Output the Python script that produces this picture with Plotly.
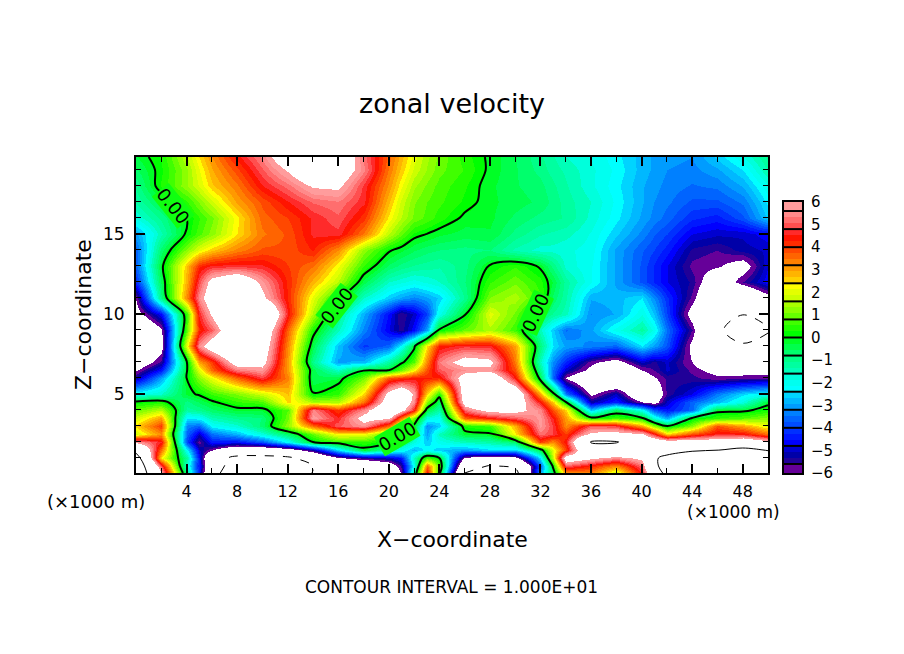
import plotly.graph_objects as go

# x en km, z en km (ligne du haut d'abord dans u_rows)
x_km = [0, 2, 4, 6, 8, 10, 12, 14, 16, 18, 20, 22, 23, 24, 26, 28, 30, 32, 34, 36, 38, 40, 42, 44, 46, 48, 50]
z_km = [19.8, 19, 18, 17, 16, 15, 14, 13, 12, 11, 10, 9, 8, 7, 6.5, 6, 5, 4.5, 4, 3.5, 3, 2.5, 2, 1.5, 1, 0.5, 0.06]

u_rows = [
    [-0.3, 0.3, 1.6, 3.2, 4.4, 5.4, 7, 8, 7.5, 5.2, 3.6, 2, 1.4, 1, 0.4, -0.1, -0.5, -1, -1.6, -1.9, -2.3, -2.8, -3.1, -3.2, -2.6, -1.9, -1],
    [-0.6, 0.2, 1.3, 2.9, 3.9, 5, 6.1, 7.5, 7, 5.4, 3.4, 1.8, 1.3, 0.9, 0.5, -0.1, -0.5, -0.9, -1.4, -1.8, -2.2, -2.8, -3.2, -3.3, -3, -2.4, -1.3],
    [-1, 0.3, 1.3, 2.6, 3.4, 4.5, 5.2, 6.1, 6.2, 4.7, 3.1, 1.4, 1, 0.7, 0.3, -0.2, -0.5, -0.7, -1.3, -1.8, -2.3, -2.9, -3.3, -3.5, -3.4, -2.9, -1.9],
    [-1.3, -0.4, 0.5, 1.8, 3, 3.8, 4.5, 5.1, 5.3, 4.6, 2.7, 1.1, 0.8, 0.6, 0.2, -0.2, -0.4, -0.6, -1.2, -1.6, -2.2, -2.9, -3.4, -3.8, -3.8, -3.4, -2.3],
    [-1.8, -1, 0, 1, 2.3, 3.6, 4, 4.6, 5, 4.1, 2.3, 1, 0.7, 0.4, -0.1, -0.2, -0.6, -0.9, -1.1, -1.7, -2.3, -3, -3.6, -4.2, -4.4, -3.8, -2.6],
    [-3, -1.4, 0.1, 1.2, 2.4, 3.4, 3.8, 4.6, 4.7, 3.4, 1.6, 0.2, 0, -0.2, -0.4, -0.3, -0.9, -1.3, -1.5, -1.9, -2.6, -3.3, -4, -4.8, -5, -5, -4.6],
    [-3.6, -0.7, 1.2, 2.6, 3.3, 3.8, 3.8, 4.3, 3.2, 1.2, 0.1, -0.5, -0.7, -0.8, -0.9, -0.8, -1.4, -1.7, -1.8, -2, -3, -3.7, -4.4, -5.4, -5.6, -5.2, -5],
    [-3.6, -0.2, 2.7, 4.6, 4.7, 4.6, 4, 3.5, 2.2, 0.5, -0.6, -1.1, -1.2, -1.3, -0.9, 0.05, 0.5, -0.1, -1.7, -2.1, -3, -3.8, -4.8, -5.7, -5.9, -6.5, -4.8],
    [-4.2, -0.5, 2.9, 6.5, 7.5, 5.7, 4.2, 2.8, 1.6, -0.4, -1.6, -2, -1.8, -1.6, -0.8, 0.5, 1, 0.4, -1.2, -2.1, -3, -3.8, -4.8, -5.4, -7, -5.6, -4.6],
    [-5.9, -0.9, 3.3, 7, 9, 6.3, 4.2, 2, 0.2, -1.6, -2.6, -3.3, -3, -2.6, -1, 1.1, 1.5, 0.6, -1.3, -2.9, -2.8, -2.4, -4.2, -5.7, -8, -8, -6.4],
    [-6.5, -4.6, 0.6, 6.2, 9.5, 9, 4.5, 1.5, -1, -2.9, -4.6, -5, -4, -2, -0.1, 2, 1, -0.5, -1.5, -3.2, -2.9, -1.9, -4, -6.5, -8, -9.9, -8],
    [-8, -6.2, 0.9, 5, 8, 7.5, 3.6, 0.3, -1.5, -3.3, -4.8, -4.6, -3, 0.1, 0.9, 1.5, 0.6, -1.5, -3.5, -3, -2, -1.2, -3.5, -5.6, -9.5, -11.5, -10.5],
    [-8, -6.5, 2.2, 7, 9, 7, 3.2, -0.4, -2.7, -4.1, -3.6, -0.2, 2.4, 4.3, 4.7, 4.6, 3, -0.8, -3, -3.3, -3.6, -2.4, -3.8, -6.3, -8.5, -9.7, -8],
    [-7, -5.5, -0.1, 4, 6.8, 6.5, 3, -1, -3, -2.8, -1.2, 0.8, 3.3, 5.3, 6.6, 6.3, 3.4, -1.5, -4.3, -5.8, -6.5, -5, -5, -6, -7.5, -8, -7.5],
    [-6.1, -4.5, -0.1, 3.6, 5.3, 5.7, 3, -0.4, -1.6, -0.1, -0.1, 2.2, 3.8, 5, 5.6, 5.7, 3.8, -1, -5, -6.3, -7.5, -6, -5, -5.7, -6.4, -6.5, -6.4],
    [-5.2, -3, 0, 2.1, 3.6, 4.8, 3.3, -0.5, -0.3, 1, 3.8, 4.4, 4.3, 4.2, 6.7, 7.5, 4.5, -0.4, -6.1, -7.5, -8, -6.6, -5.5, -5.5, -5.8, -5.7, -5.6],
    [-2, -1.6, -0.2, 0.6, 1.1, 1.8, 2.7, 0.05, 0.5, 2.5, 6.5, 5.8, 2.5, 0.4, 7, 9, 7.5, 3, -3.4, -6.2, -5, -7.5, -5.5, -4.8, -3.4, -2.5, -2],
    [0.1, 0.3, -0.9, -0.1, 0.5, 0.7, 2.5, 1.5, 1.5, 3.5, 7, 5.5, 1.2, -0.6, 6.8, 9, 7, 4.5, 0, -5.2, -4.3, -6, -5, -3.6, -2.8, -1.8, -0.2],
    [0.9, 1.6, -1.2, -0.6, -0.2, -0.2, 0.8, 5.4, 4, 5.5, 8, 4.5, -0.3, -1.3, 5.2, 6.5, 6.4, 5.5, 2.5, -2.7, -0.5, -2, -4.5, -3.6, -0.2, -0.2, 0.3],
    [1.8, 3, -2.4, -1.4, -1, -0.8, 1, 5.8, 4.6, 6.5, 6.2, 1, -1.8, -2.1, 3.7, 4.4, 5, 5.7, 3, 0.2, 0.6, 0.1, -3, 0, 0.5, 0.8, 1.2],
    [2.5, 4, -3.3, -2.2, -1.7, -0.7, 1.3, 3.5, 5, 5.6, 3.5, -0.2, -3.2, -2.6, 0.3, 0.6, 2.8, 5.7, 3.2, 5, 4.8, 3, -0.1, 1.2, 3.8, 3, 2],
    [1.8, 3.2, -3.6, -3.5, -2.8, -1.8, -0.6, 0.9, 2.3, 2.2, 0.8, -1.1, -3, -1.5, -0.2, -0.1, 2.3, 5.2, 4, 6.3, 6.5, 6.2, 2.5, 3.8, 4.6, 4.5, 3.5],
    [5.7, 4.6, -4, -4.4, -4.5, -3.8, -2.2, 0, 0.5, 0.5, 0, -1.8, -2.6, -2, -1.5, -1.3, -0.7, 4, 4.5, 10.2, 10.2, 8, 7, 7, 7, 7.5, 6.5],
    [9, 3.5, -2.2, -6, -7.5, -7.5, -7, -5.2, -2.5, -0.2, -1.4, -2.8, -2.2, -2.6, -3, -2.5, -2.6, -0.4, 4, 8.5, 8.5, 8, 9.3, 9.7, 9.9, 10.8, 9.8],
    [11.5, 2.4, -1.2, -8.5, -10.8, -11, -10.5, -8.5, -6.2, -5.5, -5, -1.5, 0.8, 0, -6.3, -7, -6.5, -2.5, 7, 6.2, 5.5, 6.3, 10.4, 11.5, 12.5, 13, 12],
    [12.5, 5, -1.8, -8, -12, -12.5, -11.5, -10, -8, -8, -7, -2, 3.6, 0.9, -8.5, -10.2, -9.5, -3.8, 5, 4.2, 3.2, 5.2, 11, 12.5, 13.5, 13.5, 13],
    [13, 6, -1, -8.5, -13, -13, -12.5, -9.9, -8.5, -8.5, -7.5, -1, 4.5, 0.3, -10, -11.5, -11, -3, 3, 3.3, 1.7, 4.6, 11, 14, 14, 14, 14],
]

# colonnes supplementaires relevees la ou le champ varie vite
col_5 = [2.4, 2.1, 1.9, 1.1, 0.5, 0.7, 2, 4.2, 4.9, 5.5, 4.6, 4.2, 5.5, 3, 2, 1.2, 0.1, -0.5, -1, -2.2, -3.6, -5, -5.8, -5, -4.5, -4.5, -4.5]
col_21 = [2.8, 2.6, 2.2, 1.8, 1.6, 0.9, -0.2, -0.9, -1.8, -3, -5.6, -5.5, -2.2, -0.2, 0.9, 4.1, 7.5, 7.5, 6.5, 3.5, 1, -0.2, -0.9, -2, -4.5, -5.5, -6]
col_33 = [-1.3, -1.2, -1, -0.9, -1, -1.4, -1.7, -0.9, -0.3, -0.6, -1.1, -2.6, -2.4, -3.2, -3.5, -3.6, 0.3, 2.6, 3.8, 4.5, 4.8, 4.8, 3.2, 2, 1.8, 0.2, -0.5]
col_41 = [-3, -3, -3.1, -3.2, -3.3, -3.7, -4, -4.3, -4.3, -3.2, -2.7, -2, -3, -5.4, -5.6, -6.1, -7, -6.5, -3.8, -1.8, 1.3, 4.6, 7.5, 8.8, 9.8, 9.5, 8]

# etiquettes de l'isoligne 0
label_x = [2.9, 15.9, 20.65, 31.6]
label_z = [16.75, 10.5, 2.37, 10.1]
label_angle = [51, -52, -30, -65]

# couleurs de la palette, du haut (+6) vers le bas (-6)
bar_colors = [
    "#ff9c9c",
    "#ff8a8a", "#ff6e6e", "#ff4f4f",
    "#ff2a2a", "#ff1400", "#ff2c00",
    "#ff4800", "#ff6400", "#ff8000",
    "#ff9900", "#ffb400", "#ffd000",
    "#ffff00", "#e4ff00", "#ccff00",
    "#a8ff00", "#8cff00", "#66ff00",
    "#40ff00", "#20ff00", "#00ff00",
    "#00ff26", "#00ff4c", "#00ff6c",
    "#00ff88", "#00ffa0", "#00ffb8",
    "#00ffdc", "#00fff0", "#00ffff",
    "#00d4ff", "#00b8ff", "#009cff",
    "#0080ff", "#0064ff", "#004cff",
    "#0030ff", "#0018ff", "#0000ff",
    "#0000d0", "#0000a8", "#200098",
    "#660099",
]
bar_ticks = [6, 5, 4, 3, 2, 1, 0, -1, -2, -3, -4, -5, -6]
bar_seps = [5.6, 4.8, 4, 3.2, 2.4, 1.6, 0.8, 0, -0.8, -1.6, -2.4, -3.2, -4, -4.8, -5.6]

# insere les colonnes en plus dans la grille
for cx, col in [(5, col_5), (21, col_21), (33, col_33), (41, col_41)]:
    pos = next(i for i, v in enumerate(x_km) if v > cx)
    x_km.insert(pos, cx)
    for row, val in zip(u_rows, col):
        row.insert(pos, val)

# bords des couleurs : 3 teintes par bloc de 0.8, blocs extremes plus courts
edges = [6.0, 5.6]
for s in bar_seps[1:]:
    step = (edges[-1] - s) / 3
    edges += [edges[-1] - step, edges[-1] - 2 * step, s]
edges.append(-6.0)

Z_LIM = 16
colorscale = []
top_stop = (6 + Z_LIM) / (2 * Z_LIM)
bot_stop = (-6 + Z_LIM) / (2 * Z_LIM)
colorscale.append([0, "white"])
colorscale.append([bot_stop, "white"])
for i in range(len(bar_colors) - 1, -1, -1):
    low = (edges[i + 1] + Z_LIM) / (2 * Z_LIM)
    high = (edges[i] + Z_LIM) / (2 * Z_LIM)
    colorscale.append([low, bar_colors[i]])
    colorscale.append([high, bar_colors[i]])
colorscale.append([top_stop, "white"])
colorscale.append([1, "white"])

W, H = 904, 654
FONT = "DejaVu Sans"


def px_x(p):
    return p / W


def px_y(p):
    return 1 - p / H


fig = go.Figure()

fig.add_trace(go.Heatmap(
    x=x_km, y=z_km, z=u_rows,
    zmin=-Z_LIM, zmax=Z_LIM,
    colorscale=colorscale, zsmooth="best", showscale=False,
))

# isolignes : 0 en gras, +10 trait fin, -10 tirets
fig.add_trace(go.Contour(
    x=x_km, y=z_km, z=u_rows,
    autocontour=False,
    contours=dict(coloring="none", start=0, end=0, size=1),
    line=dict(color="black", width=2),
    showscale=False,
))
fig.add_trace(go.Contour(
    x=x_km, y=z_km, z=u_rows,
    autocontour=False,
    contours=dict(coloring="none", start=10, end=10, size=1),
    line=dict(color="black", width=1),
    showscale=False,
))
fig.add_trace(go.Contour(
    x=x_km, y=z_km, z=u_rows,
    autocontour=False,
    contours=dict(coloring="none", start=-10, end=-10, size=1),
    line=dict(color="black", width=1, dash="dash"),
    showscale=False,
))

# barre de couleurs dessinee comme un petit heatmap
bar_z = [[(edges[i] + edges[i + 1]) / 2] for i in range(len(bar_colors))]
fig.add_trace(go.Heatmap(
    x=[0, 1], y=edges, z=bar_z,
    zmin=-Z_LIM, zmax=Z_LIM,
    colorscale=colorscale, showscale=False,
    xaxis="x2", yaxis="y2",
))
for s in bar_seps:
    fig.add_shape(type="line", xref="x2", yref="y2", x0=0, x1=1, y0=s, y1=s,
                  line=dict(color="black", width=2))

fig.update_layout(
    width=W, height=H,
    margin=dict(l=0, r=0, t=0, b=0, autoexpand=False),
    paper_bgcolor="white",
    plot_bgcolor="white",
    showlegend=False,
    font=dict(family=FONT, color="black"),
    xaxis=dict(
        domain=[px_x(136), px_x(768)], range=[0, 50],
        tickvals=[4, 8, 12, 16, 20, 24, 28, 32, 36, 40, 44, 48],
        ticks="inside", ticklen=9, tickwidth=2, tickcolor="black",
        minor=dict(ticks="inside", dtick=2, ticklen=5, tickwidth=1, tickcolor="black"),
        showline=True, linecolor="black", linewidth=2, mirror="allticks",
        showgrid=False, zeroline=False, tickfont=dict(size=16), ticklabelstandoff=3,
    ),
    yaxis=dict(
        domain=[px_y(473), px_y(157)], range=[0.06, 19.8],
        tickvals=[5, 10, 15],
        ticks="inside", ticklen=9, tickwidth=2, tickcolor="black",
        minor=dict(ticks="inside", dtick=1, ticklen=5, tickwidth=1, tickcolor="black"),
        showline=True, linecolor="black", linewidth=2, mirror="allticks",
        showgrid=False, zeroline=False, tickfont=dict(size=17), ticklabelstandoff=6,
    ),
    xaxis2=dict(
        domain=[px_x(784), px_x(802)], range=[0, 1], anchor="y2",
        showticklabels=False, ticks="", showgrid=False, zeroline=False,
        showline=True, linecolor="black", linewidth=2, mirror=True,
    ),
    yaxis2=dict(
        domain=[px_y(473), px_y(202)], range=[-6, 6], anchor="x2", side="right",
        tickvals=bar_ticks, ticktext=[str(t).replace("-", "\u2212") for t in bar_ticks],
        ticks="", showgrid=False, zeroline=False, tickfont=dict(size=15), ticklabelstandoff=4,
        showline=True, linecolor="black", linewidth=2, mirror=True,
    ),
)

texts = [
    ("zonal velocity", 452, 104, 27, 0),
    ("X\u2212coordinate", 452, 539, 22, 0),
    ("Z\u2212coordinate", 83, 315, 22, -90),
    ("(\u00d71000 m)", 96, 501, 18, 0),
    ("(\u00d71000 m)", 733, 512, 17, 0),
    ("CONTOUR INTERVAL = 1.000E+01", 451, 587, 17, 0),
]
for text, px, py, size, angle in texts:
    fig.add_annotation(
        text=text, xref="paper", yref="paper", x=px_x(px), y=px_y(py),
        xanchor="center", yanchor="middle", showarrow=False,
        textangle=angle, font=dict(family=FONT, size=size, color="black"),
    )

for lx, lz, la in zip(label_x, label_z, label_angle):
    fig.add_annotation(
        text="0.00", x=lx, y=lz, xref="x", yref="y", showarrow=False,
        textangle=la, bgcolor="#10ff10", borderpad=0,
        font=dict(family=FONT, size=18, color="black"),
    )

fig.write_html("out.html", config=dict(displayModeBar=False),
               post_script="document.body.style.margin='0';")
